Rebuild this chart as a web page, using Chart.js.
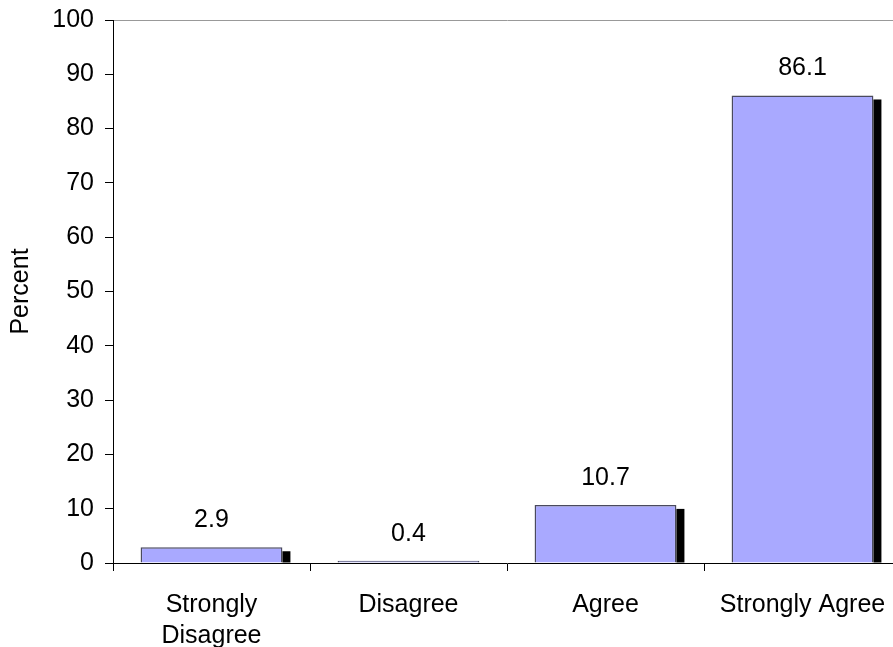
<!DOCTYPE html>
<html>
<head>
<meta charset="utf-8">
<script src="https://cdn.jsdelivr.net/npm/chart.js@4.4.0/dist/chart.umd.min.js"></script>
<style>
  html, body { margin: 0; padding: 0; background: #fff; overflow: hidden; }
  #wrap { width: 905px; height: 647px; }
</style>
</head>
<body>
<div id="wrap"><canvas id="chart" width="905" height="647"></canvas></div>
<script>
// data
const categories = [['Strongly', 'Disagree'], 'Disagree', 'Agree', 'Strongly Agree'];
const percentValues = [2.9, 0.4, 10.7, 86.1];
const yTicks = [0, 10, 20, 30, 40, 50, 60, 70, 80, 90, 100];

const FONT = "'Liberation Sans', Arial, sans-serif";

// black drop shadow on the right side of each bar + value labels
const barExtras = {
    id: 'barExtras',
    afterDatasetsDraw(chart) {
        const ctx = chart.ctx;
        const meta = chart.getDatasetMeta(0);
        ctx.save();
        meta.data.forEach((bar, i) => {
            const p = bar.getProps(['x', 'y', 'base', 'width'], true);
            const h = p.base - p.y - 4;
            if (h > 0) {
                ctx.fillStyle = '#000';
                ctx.fillRect(p.x + p.width / 2, p.y + 4, 8, h);
            }
            ctx.fillStyle = '#000';
            ctx.font = '25px ' + FONT;
            ctx.textAlign = 'center';
            ctx.textBaseline = 'middle';
            ctx.fillText(String(percentValues[i]), p.x, p.y - 27);
        });
        ctx.restore();
    }
};

new Chart(document.getElementById('chart'), {
    type: 'bar',
    data: {
        labels: categories,
        datasets: [{
            data: percentValues,
            backgroundColor: '#A9A9FF',
            borderColor: '#4A4A5E',
            borderWidth: 1.5,
            categoryPercentage: 0.72,
            barPercentage: 1
        }]
    },
    options: {
        responsive: false,
        animation: false,
        layout: { padding: { top: 20, right: 4, left: 0, bottom: 0 } },
        plugins: { legend: { display: false }, tooltip: { enabled: false } },
        scales: {
            x: {
                grid: { offset: true, color: 'transparent', tickColor: '#000', tickLength: 8 },
                border: { color: '#000', width: 1 },
                ticks: { color: '#000', font: { family: FONT, size: 25, lineHeight: 1.25 }, padding: 18, maxRotation: 0 },
                afterFit(scale) { scale.height = 84; }
            },
            y: {
                min: 0,
                max: 100,
                afterBuildTicks(scale) { scale.ticks = yTicks.map(v => ({ value: v })); },
                grid: {
                    color: c => (c.tick && c.tick.value === 100 ? '#999' : 'transparent'),
                    tickColor: '#000',
                    tickLength: 8
                },
                border: { color: '#000', width: 1 },
                ticks: { color: '#000', font: { family: FONT, size: 25 }, padding: 11 },
                title: {
                    display: true,
                    text: 'Percent',
                    color: '#000',
                    font: { family: FONT, size: 25 },
                    padding: { top: 6, bottom: 0 }
                },
                afterFit(scale) {
                    scale.width = 113;
                    scale.paddingTop = 0;
                    scale.paddingBottom = 0;
                }
            }
        }
    },
    plugins: [barExtras]
});
</script>
</body>
</html>
